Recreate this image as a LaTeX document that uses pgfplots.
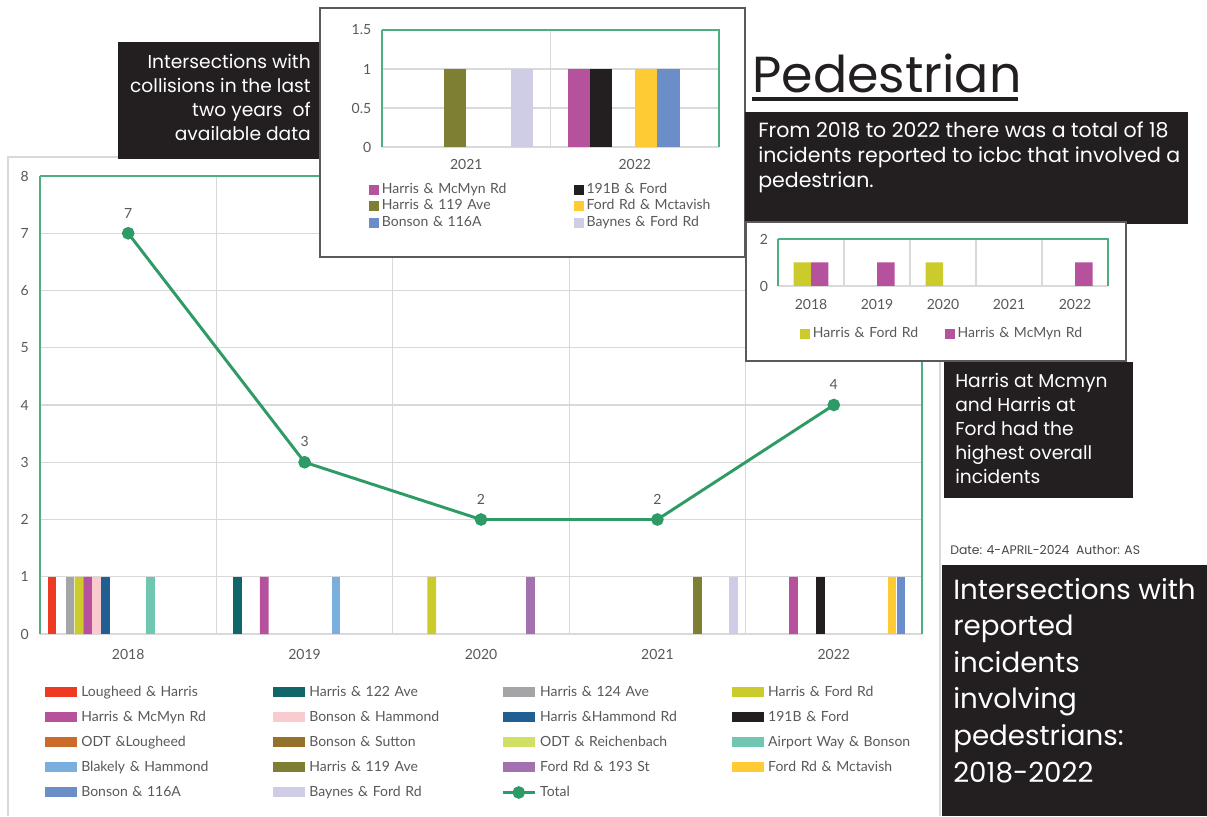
\documentclass[border=0pt]{standalone}
\usepackage{fontspec}
\setmainfont{Lato}
\newfontfamily\gothic{Poppins}
\usepackage{pgfplots}
\pgfplotsset{compat=1.18}

\definecolor{gridgray}{HTML}{D9D9D9}
\definecolor{labelgray}{HTML}{595959}
\definecolor{framegreen}{HTML}{4CAF7D}
\definecolor{totalgreen}{HTML}{2E9B66}
\definecolor{boxblack}{HTML}{231F20}
\definecolor{cLough}{HTML}{EE3A23}
\definecolor{cH122}{HTML}{10676A}
\definecolor{cH124}{HTML}{A5A5A8}
\definecolor{cHFord}{HTML}{CBCC2B}
\definecolor{cMcMyn}{HTML}{B6519E}
\definecolor{cBHam}{HTML}{F9CBCE}
\definecolor{cHHam}{HTML}{215F93}
\definecolor{c191B}{HTML}{231F20}
\definecolor{cODTL}{HTML}{CC6B29}
\definecolor{cSutton}{HTML}{95722B}
\definecolor{cODTR}{HTML}{CFE065}
\definecolor{cAirport}{HTML}{6FC7B2}
\definecolor{cBlakely}{HTML}{7AAEDF}
\definecolor{cH119}{HTML}{7F7F33}
\definecolor{c193}{HTML}{A370B0}
\definecolor{cMctav}{HTML}{FFCB34}
\definecolor{c116A}{HTML}{6B8DC8}
\definecolor{cBaynes}{HTML}{CFCCE6}

\pgfplotsset{
  /pgf/number format/assume math mode=true,
  barleg/.style={legend image code/.code={\fill[##1] (0pt,-3.75pt) rectangle (24pt,3.75pt);}},
  sqleg/.style={legend image code/.code={\fill[##1] (0pt,-3.75pt) rectangle (7.5pt,3.75pt);}},
  chartbase/.style={
    scale only axis,
    major tick length=0pt, minor tick length=0pt,
    axis x line*=bottom, axis y line*=left,
    x axis line style={gridgray, line width=1.4pt},
    y axis line style={framegreen, line width=0.9pt},
    grid style={gridgray, line width=0.9pt},
    minor grid style={gridgray, line width=0.9pt},
    xminorgrids, ymajorgrids,
    tick label style={font=\fontsize{10.5}{12}\selectfont, text=labelgray},
    clip=false,
  },
}

\begin{document}
\begin{tikzpicture}
\begin{scope}[x=0.75pt, y=-0.75pt]
  \fill[white] (0,0) rectangle (1207,816);
  \draw[gridgray, line width=0.9pt] (8,816) -- (8,157) -- (940,157) -- (940,816);
\end{scope}

% main chart
\begin{axis}[
  chartbase,
  at={(40*0.75pt,-634*0.75pt)}, anchor=south west,
  width=661.5pt, height=343.5pt,
  xmin=2017.5, xmax=2022.5, ymin=0, ymax=8,
  xtick={2018,2019,2020,2021,2022},
  xticklabels={2018,2019,2020,2021,2022},
  minor xtick={2018.5,2019.5,2020.5,2021.5},
  ytick={0,1,2,3,4,5,6,7,8},
  xticklabel style={yshift=-8pt},
  yticklabel style={xshift=-5pt},
  legend columns=4,
  legend cell align=left,
  legend style={at={(0.0057,-0.106)}, anchor=north west, draw=none, fill=none,
    inner sep=0pt, row sep=4.25pt, font=\fontsize{10.5}{12}\selectfont,
    nodes={text=labelgray, text width=142pt, align=left, inner sep=2pt,
      text height=8pt, text depth=2.5pt},
    /tikz/every odd column/.append style={column sep=1pt}},
]
\addplot[ybar, bar width=0.05, bar shift=-0.4318, fill=cLough, draw=none, barleg]
  coordinates {(2018,1)};
\addlegendentry{Lougheed \& Harris}
\addplot[ybar, bar width=0.05, bar shift=-0.381, fill=cH122, draw=none, barleg]
  coordinates {(2019,1)};
\addlegendentry{Harris \& 122 Ave}
\addplot[ybar, bar width=0.05, bar shift=-0.3302, fill=cH124, draw=none, barleg]
  coordinates {(2018,1)};
\addlegendentry{Harris \& 124 Ave}
\addplot[ybar, bar width=0.05, bar shift=-0.2794, fill=cHFord, draw=none, barleg]
  coordinates {(2018,1) (2020,1)};
\addlegendentry{Harris \& Ford Rd}
\addplot[ybar, bar width=0.05, bar shift=-0.2286, fill=cMcMyn, draw=none, barleg]
  coordinates {(2018,1) (2019,1) (2022,1)};
\addlegendentry{Harris \& McMyn Rd}
\addplot[ybar, bar width=0.05, bar shift=-0.1778, fill=cBHam, draw=none, barleg]
  coordinates {(2018,1)};
\addlegendentry{Bonson \& Hammond}
\addplot[ybar, bar width=0.05, bar shift=-0.127, fill=cHHam, draw=none, barleg]
  coordinates {(2018,1)};
\addlegendentry{Harris \&Hammond Rd}
\addplot[ybar, bar width=0.05, bar shift=-0.0762, fill=c191B, draw=none, barleg]
  coordinates {(2022,1)};
\addlegendentry{191B \& Ford}
% no incidents in 2018-2022 for the next three
\addlegendimage{area legend, fill=cODTL, draw=none, barleg}
\addlegendentry{ODT \&Lougheed}
\addlegendimage{area legend, fill=cSutton, draw=none, barleg}
\addlegendentry{Bonson \& Sutton}
\addlegendimage{area legend, fill=cODTR, draw=none, barleg}
\addlegendentry{ODT \& Reichenbach}
\addplot[ybar, bar width=0.05, bar shift=0.127, fill=cAirport, draw=none, barleg]
  coordinates {(2018,1)};
\addlegendentry{Airport Way \& Bonson}
\addplot[ybar, bar width=0.05, bar shift=0.1778, fill=cBlakely, draw=none, barleg]
  coordinates {(2019,1)};
\addlegendentry{Blakely \& Hammond}
\addplot[ybar, bar width=0.05, bar shift=0.2286, fill=cH119, draw=none, barleg]
  coordinates {(2021,1)};
\addlegendentry{Harris \& 119 Ave}
\addplot[ybar, bar width=0.05, bar shift=0.2794, fill=c193, draw=none, barleg]
  coordinates {(2020,1)};
\addlegendentry{Ford Rd \& 193 St}
\addplot[ybar, bar width=0.05, bar shift=0.3302, fill=cMctav, draw=none, barleg]
  coordinates {(2022,1)};
\addlegendentry{Ford Rd \& Mctavish}
\addplot[ybar, bar width=0.05, bar shift=0.381, fill=c116A, draw=none, barleg]
  coordinates {(2022,1)};
\addlegendentry{Bonson \& 116A}
\addplot[ybar, bar width=0.05, bar shift=0.4318, fill=cBaynes, draw=none, barleg]
  coordinates {(2021,1)};
\addlegendentry{Baynes \& Ford Rd}
\addplot[totalgreen, line width=2.2pt, mark=*, mark size=3.6pt,
  mark options={fill=totalgreen, draw=totalgreen},
  nodes near coords,
  every node near coord/.append style={font=\fontsize{10.5}{12}\selectfont, text=labelgray, yshift=7pt},
  legend image code/.code={\draw[totalgreen, line width=2.2pt] (0pt,0pt) -- (24pt,0pt);
    \fill[totalgreen] (12pt,0pt) circle (3.6pt);}]
  coordinates {(2018,7) (2019,3) (2020,2) (2021,2) (2022,4)};
\addlegendentry{Total}
\draw[framegreen, line width=0.9pt] (rel axis cs:0,1) -- (rel axis cs:1,1) -- (rel axis cs:1,0);
\end{axis}

\begin{scope}[x=0.75pt, y=-0.75pt]
  \fill[boxblack] (118,42) rectangle (323,159);
  \node[anchor=north east, align=right, text=white, inner sep=0pt,
    font=\gothic\fontsize{14}{18}\selectfont] at (311,54)
    {Intersections with\\collisions in the last\\two years\ \ of\\available data};
  \draw[labelgray, line width=1.2pt, fill=white] (320,8) rectangle (745,257);
\end{scope}

% inset: last two years
\begin{axis}[
  chartbase,
  at={(382*0.75pt,-147*0.75pt)}, anchor=south west,
  width=252.75pt, height=87.75pt,
  xmin=2020.5, xmax=2022.5, ymin=0, ymax=1.5,
  xtick={2021,2022}, xticklabels={2021,2022},
  minor xtick={2021.5},
  ytick={0,0.5,1,1.5},
  xticklabel style={yshift=-6pt},
  yticklabel style={xshift=-4.5pt},
  legend columns=2,
  legend cell align=left,
  legend style={at={(-0.0386,-0.29)}, anchor=north west, draw=none, fill=none,
    inner sep=0pt, row sep=0pt, font=\fontsize{10.5}{12}\selectfont,
    nodes={text=labelgray, text width=143pt, align=left, inner sep=1pt,
      text height=8pt, text depth=2.5pt},
    /tikz/every odd column/.append style={column sep=1pt}},
]
\addplot[ybar, bar width=0.133, bar shift=-0.3325, fill=cMcMyn, draw=none, sqleg]
  coordinates {(2022,1)};
\addlegendentry{Harris \& McMyn Rd}
\addplot[ybar, bar width=0.133, bar shift=-0.1995, fill=c191B, draw=none, sqleg]
  coordinates {(2022,1)};
\addlegendentry{191B \& Ford}
\addplot[ybar, bar width=0.133, bar shift=-0.0665, fill=cH119, draw=none, sqleg]
  coordinates {(2021,1)};
\addlegendentry{Harris \& 119 Ave}
\addplot[ybar, bar width=0.133, bar shift=0.0665, fill=cMctav, draw=none, sqleg]
  coordinates {(2022,1)};
\addlegendentry{Ford Rd \& Mctavish}
\addplot[ybar, bar width=0.133, bar shift=0.1995, fill=c116A, draw=none, sqleg]
  coordinates {(2022,1)};
\addlegendentry{Bonson \& 116A}
\addplot[ybar, bar width=0.133, bar shift=0.3325, fill=cBaynes, draw=none, sqleg]
  coordinates {(2021,1)};
\addlegendentry{Baynes \& Ford Rd}
\draw[framegreen, line width=0.9pt] (rel axis cs:0,1) -- (rel axis cs:1,1) -- (rel axis cs:1,0);
\end{axis}

\begin{scope}[x=0.75pt, y=-0.75pt]
  \node[anchor=base west, inner sep=0pt, text=boxblack,
    font=\gothic\fontsize{38}{40}\selectfont] at (752,93) {Pedestrian};
  \draw[boxblack, line width=2.4pt] (752,99) -- (1018,99);
  \fill[boxblack] (745,112) rectangle (1188,224);
  \node[anchor=north west, align=left, text=white, inner sep=0pt,
    font=\gothic\fontsize{15.4}{18.4}\selectfont] at (758,122)
    {From 2018 to 2022 there was a total of 18\\incidents reported to icbc that involved a\\pedestrian.};
  \draw[labelgray, line width=1.2pt, fill=white] (746,222) rectangle (1126,361);
\end{scope}

% inset: highest overall
\begin{axis}[
  chartbase,
  at={(778*0.75pt,-286*0.75pt)}, anchor=south west,
  width=247.5pt, height=35.25pt,
  xmin=2017.5, xmax=2022.5, ymin=0, ymax=2,
  xtick={2018,2019,2020,2021,2022},
  xticklabels={2018,2019,2020,2021,2022},
  minor xtick={2018.5,2019.5,2020.5,2021.5},
  ytick={0,2},
  xticklabel style={yshift=-6.5pt},
  yticklabel style={xshift=-4pt},
  legend columns=2,
  legend cell align=left,
  legend style={at={(0.0667,-0.83)}, anchor=north west, draw=none, fill=none,
    inner sep=0pt, font=\fontsize{10.5}{12}\selectfont,
    nodes={text=labelgray, text width=98pt, align=left, inner sep=1pt,
      text height=8pt, text depth=2.5pt},
    /tikz/every odd column/.append style={column sep=1pt}},
]
\addplot[ybar, bar width=0.265, bar shift=-0.1325, fill=cHFord, draw=none, sqleg]
  coordinates {(2018,1) (2020,1)};
\addlegendentry{Harris \& Ford Rd}
\addplot[ybar, bar width=0.265, bar shift=0.1325, fill=cMcMyn, draw=none, sqleg]
  coordinates {(2018,1) (2019,1) (2022,1)};
\addlegendentry{Harris \& McMyn Rd}
\draw[framegreen, line width=0.9pt] (rel axis cs:0,1) -- (rel axis cs:1,1) -- (rel axis cs:1,0);
\end{axis}

\begin{scope}[x=0.75pt, y=-0.75pt]
  \fill[boxblack] (944,362) rectangle (1133,498);
  \node[anchor=north west, align=left, text=white, inner sep=0pt,
    font=\gothic\fontsize{14}{18}\selectfont] at (955,373)
    {Harris at Mcmyn\\and Harris at\\Ford had the\\highest overall\\incidents};
  \node[anchor=base west, inner sep=0pt, text=labelgray!80!black,
    font=\gothic\fontsize{9.3}{10}\selectfont] at (950,554)
    {Date: 4-APRIL-2024\ \ Author: AS};
  \fill[boxblack] (942,565) rectangle (1207,816);
  \node[anchor=north west, align=left, text=white, inner sep=0pt,
    font=\gothic\fontsize{20.8}{27.4}\selectfont] at (953,578)
    {Intersections with\\reported\\incidents\\involving\\pedestrians:\\2018-2022};
\end{scope}
\end{tikzpicture}
\end{document}
